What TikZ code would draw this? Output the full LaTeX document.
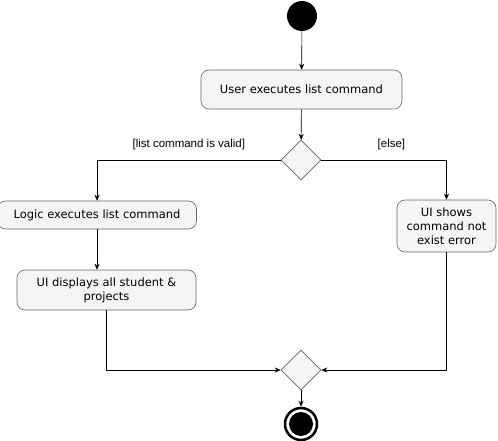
\documentclass[tikz,border=0pt]{standalone}
\usepackage{fontspec}
\setmainfont{DejaVu Sans}
\newfontfamily\lblfont{Liberation Sans}
\usetikzlibrary{positioning,arrows.meta,shapes.geometric}
\definecolor{ink}{HTML}{000000}
\definecolor{edge}{HTML}{666666}
\definecolor{wash}{HTML}{F5F5F5}
\tikzset{
  >={Stealth[length=6pt,width=5pt]},
  %% nodes
  act/.style     = {rounded corners=8pt, draw=edge, line width=0.6pt,
                    fill=wash, align=center, inner sep=2pt,
                    font=\fontsize{11.5}{14}\selectfont},
  dec/.style     = {diamond, draw=edge, line width=0.6pt, fill=wash,
                    minimum width=40pt, minimum height=40pt, inner sep=0pt},
  initial/.style = {circle, fill=ink, minimum size=30pt, inner sep=0pt},
  %% arrows
  flow/.style    = {->, draw=ink, line width=0.6pt},
  %% annotations
  guard/.style   = {font=\lblfont\fontsize{11.5}{13}\selectfont, text=ink},
}
\begin{document}
\begin{tikzpicture}[x=1pt, y=-1pt]
\useasboundingbox (0,0) rectangle (498,441);

%% start
\node[initial] (start) at (302,16) {};
\node[act, minimum width=201pt, minimum height=39pt] (user) at (301.5,89.5) {User executes list command};
\node[dec] (check) at (301,160) {};

%% valid branch
\node[act, minimum width=199pt, minimum height=28pt] (logic) at (97,215) {Logic executes list command};
\node[act, minimum width=179pt, minimum height=40pt] (show) at (106.5,290) {UI displays all student \&\\ projects};

%% else branch
\node[act, minimum width=99pt, minimum height=52pt] (err) at (446.5,226) {UI shows\\ command not\\ exist error};

%% merge and end
\node[dec] (merge) at (301,370) {};
\node[circle, draw=ink, line width=2.5pt, fill=white, minimum size=32pt, inner sep=0pt] (stop) at (301,424) {};
\node[circle, fill=ink, minimum size=24pt, inner sep=0pt] (stopdot) at (stop.center) {};

%% edges
\draw[flow] (start) -- (user);
\draw[flow] (user) -- (check);
\draw[flow] (check.west) -| (logic.north) node[guard, pos=0.25, above=6pt] {[list command is valid]};
\draw[flow] (check.east) -| (err.north) node[guard, pos=0.28, above=6pt] {[else]};
\draw[flow] (logic) -- (logic.south |- show.north);
\draw[flow] (show.south) |- (merge.west);
\draw[flow] (err.south) |- (merge.east);
\draw[flow] (merge) -- (stop);

\end{tikzpicture}
\end{document}
